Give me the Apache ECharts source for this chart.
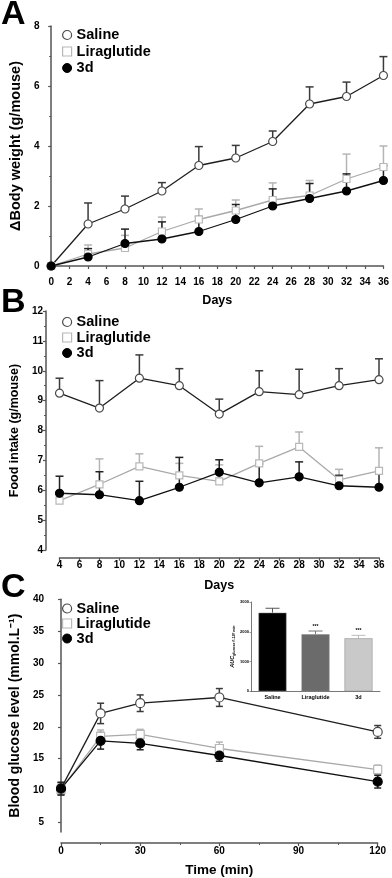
<!DOCTYPE html>
<html>
<head>
<meta charset="utf-8">
<script src="https://cdn.jsdelivr.net/npm/echarts@6/dist/echarts.min.js"></script>
<style>
html,body{margin:0;padding:0;background:#fff}
#main{width:392px;height:878px}
</style>
</head>
<body>
<div id="main"></div>
<script>
// A: body weight gain
var daysA = [0, 4, 8, 12, 16, 20, 24, 28, 32, 36];
var salineWeight = [0, 1.4, 1.9, 2.5, 3.35, 3.6, 4.15, 5.4, 5.65, 6.35];
var salineWeightErr = [0, 0.7, 0.43, 0.28, 0.63, 0.42, 0.35, 0.57, 0.48, 0.63];
var liraWeight = [0, 0.4, 0.6, 1.15, 1.55, 1.85, 2.2, 2.35, 2.9, 3.3];
var liraWeightErr = [0, 0.3, 0.42, 0.48, 0.35, 0.35, 0.57, 0.5, 0.83, 0.7];
var d3Weight = [0, 0.3, 0.75, 0.9, 1.15, 1.55, 2.0, 2.25, 2.5, 2.85];
var d3WeightErr = [0, 0.28, 0.48, 0.57, 0.5, 0.5, 0.57, 0.5, 0.57, 0.5];

// B: food intake
var daysB = [4, 8, 12, 16, 20, 24, 28, 32, 36];
var salineFood = [9.25, 8.75, 9.75, 9.5, 8.55, 9.3, 9.2, 9.5, 9.7];
var salineFoodErr = [0.5, 0.92, 0.78, 0.57, 0.5, 0.7, 0.85, 0.57, 0.7];
var liraFood = [5.65, 6.2, 6.8, 6.5, 6.3, 6.9, 7.45, 6.35, 6.65];
var liraFoodErr = [0.3, 0.85, 0.42, 0.4, 0.55, 0.57, 0.5, 0.35, 0.77];
var d3Food = [5.9, 5.85, 5.65, 6.1, 6.6, 6.25, 6.45, 6.15, 6.1];
var d3FoodErr = [0.57, 0.77, 0.65, 1.0, 0.42, 0.63, 0.5, 0.35, 0.45];

// C: glucose tolerance
var timeC = [0, 15, 30, 60, 120];
var salineGlu = [10.3, 22.1, 23.7, 24.6, 19.2];
var salineGluErr = [0.95, 1.6, 1.3, 1.4, 1.0];
var liraGlu = [10.2, 18.5, 18.8, 16.6, 13.3];
var liraGluErr = [0.8, 1.0, 0.8, 1.0, 0.7];
var d3Glu = [10.3, 17.8, 17.4, 15.5, 11.4];
var d3GluErr = [1.0, 1.3, 1.0, 0.9, 1.0];
var gluTicks = [5, 10, 15, 20, 25, 30, 35, 40];

// C inset: AUC
var aucGroups = ['Saline', 'Liraglutide', '3d'];
var aucValues = [2640, 1915, 1780];
var aucErr = [150, 110, 100];
var aucSig = ['', '***', '***'];

var FONT = 'Liberation Sans, Arial, sans-serif';
var AXIS = '#555';
var barColors = ['#000000', '#6b6b6b', '#c9c9c9'];
var barErrColors = ['#555', '#777', '#bbb'];

var st = {
    saline: {symbol: 'circle', line: '#1e1e1e', border: '#4a4a4a', fill: '#fff', err: '#3a3a3a'},
    lira: {symbol: 'rect', line: '#a9a9a9', border: '#b8b8b8', fill: '#fff', err: '#b5b5b5'},
    d3: {symbol: 'circle', line: '#111', border: '#000', fill: '#000', err: '#222'}
};

function pairs(xs, ys) {
    return xs.map(function (x, i) { return [x, ys[i]]; });
}
function triples(xs, ys, es) {
    return xs.map(function (x, i) { return [x, ys[i], es[i]]; });
}

function lineSeries(name, gi, xs, ys, s, size) {
    return {
        type: 'line', name: name, xAxisIndex: gi, yAxisIndex: gi,
        data: pairs(xs, ys), symbol: s.symbol, symbolSize: size,
        lineStyle: {color: s.line, width: 1.3},
        itemStyle: {color: s.fill, borderColor: s.border, borderWidth: 1.2},
        z: 3, animation: false
    };
}

function errSeries(gi, xs, ys, es, color, both, cap) {
    return {
        type: 'custom', name: 'err', xAxisIndex: gi, yAxisIndex: gi, z: 2,
        silent: true, animation: false,
        encode: {x: 0, y: 1},
        data: triples(xs, ys, es),
        renderItem: function (params, api) {
            var x = api.value(0), y = api.value(1), e = api.value(2);
            if (!e) return;
            var p0 = api.coord([x, both ? y - e : y]);
            var p1 = api.coord([x, y + e]);
            var ls = {stroke: color, lineWidth: 1.5};
            var kids = [
                {type: 'line', shape: {x1: p0[0], y1: p0[1], x2: p1[0], y2: p1[1]}, style: ls},
                {type: 'line', shape: {x1: p1[0] - cap, y1: p1[1], x2: p1[0] + cap, y2: p1[1]}, style: ls}
            ];
            if (both) {
                kids.push({type: 'line', shape: {x1: p0[0] - cap, y1: p0[1], x2: p0[0] + cap, y2: p0[1]}, style: ls});
            }
            return {type: 'group', children: kids};
        }
    };
}

function legendFor(top, gap) {
    return {
        orient: 'vertical', left: 57, top: top, itemWidth: 9, itemHeight: 9, itemGap: gap,
        selectedMode: false,
        textStyle: {fontSize: 14.5, fontWeight: 'bold', color: '#000', fontFamily: FONT, lineHeight: 15},
        data: [
            {name: 'Saline', icon: 'circle', itemStyle: {color: '#fff', borderColor: st.saline.border, borderWidth: 1.2}},
            {name: 'Liraglutide', icon: 'rect', itemStyle: {color: '#fff', borderColor: st.lira.border, borderWidth: 1.2}},
            {name: '3d', icon: 'circle', itemStyle: {color: '#000', borderColor: '#000', borderWidth: 1}}
        ]
    };
}

var axisLine = {show: true, lineStyle: {color: AXIS, width: 1.5}};
var axisTick = {show: true, length: 3, lineStyle: {color: AXIS, width: 1.2}};
var tickLabel = {fontSize: 10, fontWeight: 'bold', color: '#000', fontFamily: FONT, margin: 3};
function nameStyle(size) {
    return {fontSize: size, fontWeight: 'bold', color: '#000', fontFamily: FONT};
}

var myChart = echarts.init(document.getElementById('main'));
var option = {
    backgroundColor: '#fff',
    animation: false,
    title: [
        {text: 'A', left: 1, top: -2, padding: 0, textStyle: {fontSize: 34, fontWeight: 'bold', color: '#000', fontFamily: FONT}},
        {text: 'B', left: 1, top: 286, padding: 0, textStyle: {fontSize: 34, fontWeight: 'bold', color: '#000', fontFamily: FONT}},
        {text: 'C', left: 1, top: 571, padding: 0, textStyle: {fontSize: 34, fontWeight: 'bold', color: '#000', fontFamily: FONT}}
    ],
    legend: [legendFor(22.5, 1.5), legendFor(309.5, 0.5), legendFor(596, 0)],
    grid: [
        {left: 48, top: 26, width: 337, height: 240},
        {left: 52.7, top: 311, width: 326.3, height: 239},
        {left: 53.3, top: 599.3, width: 324.4, height: 233.6},
        {left: 251, top: 602, width: 129, height: 89.3}
    ],
    xAxis: [
        {gridIndex: 0, type: 'value', min: 0, max: 36, interval: 2, offset: 8,
            axisLine: axisLine, axisTick: axisTick, splitLine: {show: false}, axisLabel: tickLabel,
            name: 'Days', nameLocation: 'middle', nameGap: 20, nameTextStyle: nameStyle(12.5)},
        {gridIndex: 1, type: 'value', min: 4, max: 36, interval: 2, offset: 7.7,
            axisLine: axisLine, axisTick: axisTick, splitLine: {show: false}, axisLabel: tickLabel,
            name: 'Days', nameLocation: 'middle', nameGap: 21, nameTextStyle: nameStyle(12.5)},
        {gridIndex: 2, type: 'value', min: 0, max: 120, interval: 30, offset: 11,
            axisLine: axisLine, axisTick: axisTick, minorTick: {show: true, splitNumber: 2, length: 2, lineStyle: {color: AXIS}},
            splitLine: {show: false}, axisLabel: tickLabel,
            name: 'Time (min)', nameLocation: 'middle', nameGap: 20, nameTextStyle: nameStyle(13.5)},
        {gridIndex: 3, type: 'category', data: aucGroups,
            axisLine: {show: true, lineStyle: {color: AXIS, width: 0.8}}, axisTick: {show: false},
            axisLabel: {fontSize: 5.5, fontWeight: 'bold', color: '#000', fontFamily: FONT, margin: 3}}
    ],
    yAxis: [
        {gridIndex: 0, type: 'value', min: 0, max: 8, interval: 2, offset: 8.7,
            axisLine: axisLine, axisTick: axisTick, minorTick: {show: true, splitNumber: 2, length: 2, lineStyle: {color: AXIS}},
            splitLine: {show: false}, axisLabel: tickLabel,
            name: '\u0394Body weight (g/mouse)', nameLocation: 'middle', nameGap: 11, nameTextStyle: nameStyle(14.5)},
        {gridIndex: 1, type: 'value', min: 4, max: 12, interval: 1, offset: 13.5,
            axisLine: axisLine, axisTick: axisTick, minorTick: {show: true, splitNumber: 2, length: 2, lineStyle: {color: AXIS}},
            splitLine: {show: false}, axisLabel: tickLabel,
            name: 'Food intake (g/mouse)', nameLocation: 'middle', nameGap: 18, nameTextStyle: nameStyle(12.5)},
        {gridIndex: 2, type: 'value', min: 3.5, max: 40, offset: 14,
            axisLine: axisLine,
            axisTick: {show: true, length: 3, lineStyle: {color: AXIS, width: 1.2}, customValues: gluTicks},
            splitLine: {show: false},
            axisLabel: {fontSize: 10, fontWeight: 'bold', color: '#000', fontFamily: FONT, margin: 3, customValues: gluTicks},
            name: 'Blood glucose level (mmol.L\u207B\u00B9)', nameLocation: 'middle', nameGap: 15,
            nameTextStyle: nameStyle(14)},
        {gridIndex: 3, type: 'value', min: 0, max: 3000, interval: 1000,
            axisLine: {show: true, lineStyle: {color: AXIS, width: 0.8}},
            axisTick: {show: true, length: 1.5, lineStyle: {color: AXIS, width: 0.6}},
            splitLine: {show: false},
            axisLabel: {fontSize: 4, fontWeight: 'bold', color: '#000', fontFamily: FONT, margin: 2,
                formatter: function (v) { return String(v); }},
            name: 'AUC{s|glucose 0-120 min}', nameLocation: 'middle', nameGap: 11,
            nameTextStyle: {fontSize: 5.5, fontWeight: 'bold', fontStyle: 'italic', color: '#000', fontFamily: FONT,
                rich: {s: {fontSize: 3.5, fontWeight: 'bold', fontFamily: FONT, padding: [3, 0, 0, 0]}}}}
    ],
    series: [
        errSeries(0, daysA, salineWeight, salineWeightErr, st.saline.err, false, 4),
        errSeries(0, daysA, liraWeight, liraWeightErr, st.lira.err, false, 4),
        errSeries(0, daysA, d3Weight, d3WeightErr, st.d3.err, false, 4),
        lineSeries('Saline', 0, daysA, salineWeight, st.saline, 8),
        lineSeries('Liraglutide', 0, daysA, liraWeight, st.lira, 7),
        lineSeries('3d', 0, daysA, d3Weight, st.d3, 8),

        errSeries(1, daysB, salineFood, salineFoodErr, st.saline.err, false, 4),
        errSeries(1, daysB, liraFood, liraFoodErr, st.lira.err, false, 4),
        errSeries(1, daysB, d3Food, d3FoodErr, st.d3.err, false, 4),
        lineSeries('Saline', 1, daysB, salineFood, st.saline, 8),
        lineSeries('Liraglutide', 1, daysB, liraFood, st.lira, 7),
        lineSeries('3d', 1, daysB, d3Food, st.d3, 8),

        errSeries(2, timeC, salineGlu, salineGluErr, st.saline.err, true, 3.5),
        errSeries(2, timeC, liraGlu, liraGluErr, st.lira.err, true, 3.5),
        errSeries(2, timeC, d3Glu, d3GluErr, st.d3.err, true, 3.5),
        lineSeries('Saline', 2, timeC, salineGlu, st.saline, 9),
        lineSeries('Liraglutide', 2, timeC, liraGlu, st.lira, 8),
        lineSeries('3d', 2, timeC, d3Glu, st.d3, 9),

        {
            type: 'bar', name: 'AUC', xAxisIndex: 3, yAxisIndex: 3, barWidth: 28, z: 2,
            data: aucValues.map(function (v, i) {
                return {value: v, itemStyle: {color: barColors[i], borderColor: '#888', borderWidth: 0.5}};
            })
        },
        {
            type: 'custom', name: 'AUC err', xAxisIndex: 3, yAxisIndex: 3, z: 1, silent: true,
            encode: {x: 0, y: 1},
            data: aucValues.map(function (v, i) { return [i, v, aucErr[i]]; }),
            renderItem: function (params, api) {
                var i = api.value(0), v = api.value(1), e = api.value(2);
                var p0 = api.coord([i, v]);
                var p1 = api.coord([i, v + e]);
                var ls = {stroke: barErrColors[i], lineWidth: 1};
                var kids = [
                    {type: 'line', shape: {x1: p0[0], y1: p0[1], x2: p1[0], y2: p1[1]}, style: ls},
                    {type: 'line', shape: {x1: p1[0] - 7, y1: p1[1], x2: p1[0] + 7, y2: p1[1]}, style: ls}
                ];
                if (aucSig[i]) {
                    kids.push({type: 'text', x: p1[0], y: p1[1] - 2, style: {
                        text: aucSig[i], fontSize: 5, fontWeight: 'bold', fontFamily: FONT,
                        fill: '#000', align: 'center', verticalAlign: 'bottom'}});
                }
                return {type: 'group', children: kids};
            }
        }
    ]
};
myChart.setOption(option);
</script>
</body>
</html>
